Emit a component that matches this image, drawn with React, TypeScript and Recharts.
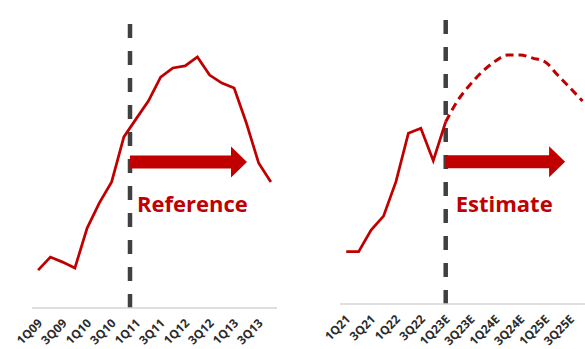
import React from 'react';
import { LineChart, Line, XAxis, YAxis, ReferenceLine } from 'recharts';

// quarter labels for both panels
const leftQuarters = [
  '1Q09', '2Q09', '3Q09', '4Q09', '1Q10', '2Q10', '3Q10', '4Q10',
  '1Q11', '2Q11', '3Q11', '4Q11', '1Q12', '2Q12', '3Q12', '4Q12',
  '1Q13', '2Q13', '3Q13', '4Q13',
];
const rightQuarters = [
  '1Q21', '2Q21', '3Q21', '4Q21', '1Q22', '2Q22', '3Q22', '4Q22',
  '1Q23E', '2Q23E', '3Q23E', '4Q23E', '1Q24E', '2Q24E', '3Q24E', '4Q24E',
  '1Q25E', '2Q25E', '3Q25E', '4Q25E',
];

// index level, 0-100
const leftValues = [
  12.8, 17.2, 15.5, 13.5, 27, 35.5, 42.6, 57.8, 63.9, 69.9,
  78, 81.1, 81.8, 84.8, 78.7, 76, 74.3, 62.5, 49, 42.6,
];
const rightActual = [17.9, 17.9, 25.3, 30.1, 41.9, 58.5, 60.2, 49.1, 62.4];
const rightEstimate = [62.4, 69.9, 75.3, 79.8, 83.2, 85.3, 85.3, 84.2, 82.9, 78.4, 74, 69.5];

const labelTicks = [0, 2, 4, 6, 8, 10, 12, 14, 16, 18];

const RED = '#c00000';
const GREY = '#404040';

const leftData = leftQuarters.map((q, i) => ({ i, q, value: leftValues[i] }));
const estimateStart = rightActual.length - 1;
const rightData = rightQuarters.map((q, i) => ({
  i,
  q,
  actual: i <= estimateStart ? rightActual[i] : null,
  estimate: i >= estimateStart ? rightEstimate[i - estimateStart] : null,
}));

const QuarterTick = (labels: string[]) => (props: any) => {
  const { x, y, payload } = props;
  return (
    <g transform={`translate(${x + 5},${y + 8})`}>
      <text
        x={0}
        y={0}
        textAnchor="end"
        transform="rotate(-45)"
        fill="#2b2b2b"
        fontSize={12}
        fontWeight={700}
        fontFamily="'Open Sans', sans-serif"
      >
        {labels[payload.value]}
      </text>
    </g>
  );
};

// thick arrow with a caption underneath
const arrowShape = (caption: string, textDx: number) => (props: any) => {
  const { x1, y1, x2 } = props;
  const half = 6.5;
  const headLen = 16;
  const headHalf = 15.5;
  const pts = [
    [x1, y1 - half],
    [x2 - headLen, y1 - half],
    [x2 - headLen, y1 - headHalf],
    [x2, y1],
    [x2 - headLen, y1 + headHalf],
    [x2 - headLen, y1 + half],
    [x1, y1 + half],
  ]
    .map((p) => p.join(','))
    .join(' ');
  return (
    <g>
      <polygon points={pts} fill={RED} />
      <text
        x={x1 + textDx}
        y={y1 + 50}
        fill={RED}
        fontSize={22}
        fontWeight={700}
        fontFamily="'Open Sans', sans-serif"
      >
        {caption}
      </text>
    </g>
  );
};

export default function App() {
  return (
    <div style={{ position: 'absolute', left: 0, top: 0, width: 585, height: 349, background: '#fff' }}>
      <div style={{ position: 'absolute', left: 0, top: 0 }}>
        <LineChart width={290} height={349} data={leftData} margin={{ top: 12, right: 13, left: 32, bottom: 0 }}>
          <XAxis
            dataKey="i"
            type="number"
            domain={[-0.5, 19.5]}
            ticks={labelTicks}
            interval={0}
            tickLine={false}
            axisLine={{ stroke: '#d4d4d4', strokeWidth: 1.5 }}
            height={41}
            tick={QuarterTick(leftQuarters)}
          />
          <YAxis hide domain={[0, 100]} />
          <ReferenceLine x={7.5} stroke={GREY} strokeWidth={4.5} strokeDasharray="14 13" />
          <ReferenceLine
            segment={[{ x: 7.5, y: 49.3 }, { x: 17.05, y: 49.3 }]}
            shape={arrowShape('Reference', 7)}
          />
          <Line
            type="linear"
            dataKey="value"
            stroke={RED}
            strokeWidth={2.75}
            dot={false}
            activeDot={false}
            isAnimationActive={false}
          />
        </LineChart>
      </div>
      <div style={{ position: 'absolute', left: 292, top: 0 }}>
        <LineChart width={293} height={349} data={rightData} margin={{ top: 12, right: 0, left: 48, bottom: 0 }}>
          <XAxis
            dataKey="i"
            type="number"
            domain={[-0.5, 19.2]}
            ticks={labelTicks}
            interval={0}
            tickLine={false}
            axisLine={{ stroke: '#d4d4d4', strokeWidth: 1.5 }}
            height={45}
            tick={QuarterTick(rightQuarters)}
          />
          <YAxis hide domain={[0, 100]} />
          <ReferenceLine x={8} stroke={GREY} strokeWidth={4.5} strokeDasharray="14 13" />
          <ReferenceLine
            segment={[{ x: 8, y: 48.7 }, { x: 17.6, y: 48.7 }]}
            shape={arrowShape('Estimate', 10)}
          />
          <Line
            type="linear"
            dataKey="actual"
            stroke={RED}
            strokeWidth={2.75}
            dot={false}
            activeDot={false}
            connectNulls={false}
            isAnimationActive={false}
          />
          <Line
            type="monotone"
            dataKey="estimate"
            stroke={RED}
            strokeWidth={3}
            strokeDasharray="8 5"
            dot={false}
            activeDot={false}
            connectNulls={false}
            isAnimationActive={false}
          />
        </LineChart>
      </div>
    </div>
  );
}
